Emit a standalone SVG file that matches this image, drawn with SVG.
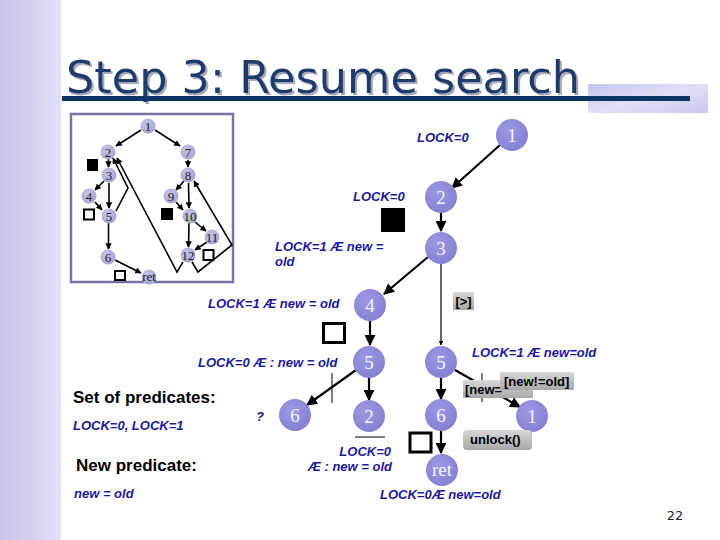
<svg xmlns="http://www.w3.org/2000/svg" width="720" height="540" viewBox="0 0 720 540">
<defs>
<linearGradient id="strip" x1="0" y1="0" x2="1" y2="0">
<stop offset="0" stop-color="#c6c6ea"/><stop offset="0.6" stop-color="#d4d4f0"/><stop offset="1" stop-color="#e2e2f6"/>
</linearGradient>
<linearGradient id="patch" x1="0" y1="0" x2="1" y2="1">
<stop offset="0" stop-color="#c4c4ee"/><stop offset="0.5" stop-color="#e0e0f8"/><stop offset="1" stop-color="#c8c8ee"/>
</linearGradient>
<radialGradient id="big" cx="0.4" cy="0.35" r="0.7">
<stop offset="0" stop-color="#9c98e4"/><stop offset="1" stop-color="#8480d2"/>
</radialGradient>
<radialGradient id="small" cx="0.4" cy="0.35" r="0.7">
<stop offset="0" stop-color="#c4c4e8"/><stop offset="1" stop-color="#a4a4d4"/>
</radialGradient>
<linearGradient id="tag" x1="0" y1="0" x2="0" y2="1">
<stop offset="0" stop-color="#d8d8d8"/><stop offset="1" stop-color="#a8a8a8"/>
</linearGradient>
<filter id="shadow" x="-5%" y="-20%" width="110%" height="140%">
<feDropShadow dx="2" dy="2" stdDeviation="0.5" flood-color="#a8a8b8"/>
</filter>
<marker id="ah" viewBox="0 0 10 10" refX="9" refY="5" markerWidth="5" markerHeight="5" orient="auto" markerUnits="strokeWidth">
<path d="M0,0 L10,5 L0,10 z" fill="#000"/>
</marker>
<marker id="ahs" viewBox="0 0 10 10" refX="9" refY="5" markerWidth="4" markerHeight="4" orient="auto" markerUnits="strokeWidth">
<path d="M0,0 L10,5 L0,10 z" fill="#000"/>
</marker>
<style>
.bn{fill:url(#big)}
.bt{font-family:"Liberation Serif",serif;font-size:19px;fill:#f2f2ff;text-anchor:middle}
.sn{fill:url(#small)}
.st{font-family:"Liberation Serif",serif;font-size:13px;fill:#222;text-anchor:middle}
.lbl{font-family:"Liberation Sans",Arial,sans-serif;font-size:13px;font-style:italic;font-weight:bold;fill:#1a1a9c}
.hd{font-family:"Liberation Sans",Arial,sans-serif;font-size:17px;font-weight:bold;fill:#000}
.e{stroke:#000;stroke-width:2.2;fill:none;marker-end:url(#ah)}
.ethin{stroke:#000;stroke-width:1.2;fill:none;marker-end:url(#ahs)}
.se{stroke:#000;stroke-width:1.6;fill:none;marker-end:url(#ahs)}
.tk{font-family:"Liberation Sans",Arial,sans-serif;font-size:13px;font-weight:bold;fill:#000}
</style>
</defs>
<rect width="720" height="540" fill="#fff"/>
<rect x="0" y="0" width="61" height="540" fill="url(#strip)"/>
<rect x="588" y="84" width="120" height="29" fill="url(#patch)"/>
<g id="title">
<text x="66" y="93" font-family="DejaVu Sans,sans-serif" font-size="44" fill="#1c3c6c" textLength="514" lengthAdjust="spacingAndGlyphs" filter="url(#shadow)">Step 3: Resume search</text>
<rect x="62" y="96" width="628" height="5" fill="#0c3466"/>
</g>
<g id="inset">
<rect x="71" y="114" width="162" height="168" fill="#fff" stroke="#7474a4" stroke-width="2.5"/>
<g id="inset-edges">
<line x1="141" y1="130" x2="116" y2="146" class="se"/>
<line x1="155" y1="130" x2="180" y2="146" class="se"/>
<line x1="108.5" y1="159" x2="108.5" y2="167" class="se"/>
<line x1="188" y1="160" x2="188" y2="167" class="se"/>
<line x1="104" y1="181" x2="95" y2="190" class="se"/>
<line x1="109" y1="183" x2="109" y2="208" class="se"/>
<line x1="95" y1="202" x2="102" y2="210" class="se"/>
<polyline points="116,211 128,188 113,158" class="se"/>
<line x1="108.5" y1="223" x2="108.5" y2="249" class="se"/>
<line x1="115" y1="260" x2="141" y2="273" class="se"/>
<line x1="184" y1="181" x2="176" y2="190" class="se"/>
<line x1="188.5" y1="183" x2="189" y2="208" class="se"/>
<line x1="176" y1="202" x2="183" y2="210" class="se"/>
<line x1="195" y1="222" x2="206" y2="231" class="se"/>
<line x1="189" y1="223" x2="188.5" y2="247" class="se"/>
<line x1="207" y1="242" x2="195" y2="250" class="se"/>
<polyline points="183,262 177,272 117,158" class="se"/>
<polyline points="192,262 198,272 232,245 194,181" class="se"/>
</g>
<g id="n-s1"><circle cx="148" cy="126" r="7.5" class="sn"/><text x="148" y="130.5" class="st">1</text></g>
<g id="n-s2"><circle cx="108" cy="152" r="7.5" class="sn"/><text x="108" y="156.5" class="st">2</text></g>
<g id="n-s7"><circle cx="188" cy="152" r="7.5" class="sn"/><text x="188" y="156.5" class="st">7</text></g>
<g id="n-s3"><circle cx="109" cy="175" r="7.5" class="sn"/><text x="109" y="179.5" class="st">3</text></g>
<g id="n-s8"><circle cx="188" cy="175" r="7.5" class="sn"/><text x="188" y="179.5" class="st">8</text></g>
<g id="n-s4"><circle cx="89" cy="196" r="7.5" class="sn"/><text x="89" y="200.5" class="st">4</text></g>
<g id="n-s9"><circle cx="171" cy="196" r="7.5" class="sn"/><text x="171" y="200.5" class="st">9</text></g>
<g id="n-s5"><circle cx="109" cy="216" r="7.5" class="sn"/><text x="109" y="220.5" class="st">5</text></g>
<g id="n-s10"><circle cx="190" cy="216" r="7.5" class="sn"/><text x="190" y="220.5" class="st">10</text></g>
<g id="n-s11"><circle cx="212" cy="237" r="7.5" class="sn"/><text x="212" y="241.5" class="st">11</text></g>
<g id="n-s6"><circle cx="108" cy="257" r="7.5" class="sn"/><text x="108" y="261.5" class="st">6</text></g>
<g id="n-s12"><circle cx="188" cy="255" r="7.5" class="sn"/><text x="188" y="259.5" class="st">12</text></g>
<g id="n-sret"><circle cx="149" cy="277" r="7.5" class="sn"/><text x="149" y="281" class="st" font-size="11">ret</text></g>
<rect x="87" y="159" width="11" height="12" fill="#000"/>
<rect x="84" y="209.5" width="10" height="10" fill="none" stroke="#000" stroke-width="2"/>
<rect x="161" y="208" width="12" height="12" fill="#000"/>
<rect x="203.5" y="250" width="10" height="10" fill="none" stroke="#000" stroke-width="2"/>
<rect x="115" y="271" width="10" height="9" fill="none" stroke="#000" stroke-width="2"/>
</g>
<g id="connectors">
<line x1="500" y1="145" x2="452" y2="188" class="e"/>
<line x1="441" y1="213" x2="441" y2="231" class="e"/>
<line x1="428" y1="257" x2="384" y2="294" class="e"/>
<line x1="441" y1="264" x2="441" y2="345" class="ethin"/>
<line x1="370" y1="321" x2="370" y2="345" class="e"/>
<line x1="356" y1="370" x2="307" y2="405" class="e"/>
<line x1="369" y1="378" x2="369" y2="400" class="e"/>
<line x1="441" y1="378" x2="441" y2="399" class="e"/>
<line x1="455" y1="370" x2="520" y2="407" class="e"/>
<line x1="441" y1="431" x2="441" y2="453" class="e"/>
<line x1="332" y1="373" x2="332" y2="403" stroke="#000" stroke-width="1"/>
<line x1="482" y1="373" x2="482" y2="402" stroke="#000" stroke-width="1"/>
<line x1="355" y1="437" x2="385" y2="437" stroke="#000" stroke-width="1"/>
</g>
<g id="n1"><circle cx="512" cy="135" r="16" class="bn"/><text x="512" y="142" class="bt">1</text></g>
<g id="n2"><circle cx="441" cy="197" r="16" class="bn"/><text x="441" y="204" class="bt">2</text></g>
<g id="n3"><circle cx="441" cy="248" r="16" class="bn"/><text x="441" y="255" class="bt">3</text></g>
<g id="n4"><circle cx="370" cy="305" r="16" class="bn"/><text x="370" y="312" class="bt">4</text></g>
<g id="n5a"><circle cx="369" cy="362" r="16" class="bn"/><text x="369" y="369" class="bt">5</text></g>
<g id="n5b"><circle cx="441" cy="362" r="16" class="bn"/><text x="441" y="369" class="bt">5</text></g>
<g id="n6a"><circle cx="295" cy="415" r="16" class="bn"/><text x="295" y="422" class="bt">6</text></g>
<g id="n2b"><circle cx="369" cy="416" r="16" class="bn"/><text x="369" y="423" class="bt">2</text></g>
<g id="n6b"><circle cx="441" cy="415" r="16" class="bn"/><text x="441" y="422" class="bt">6</text></g>
<g id="n1b"><circle cx="532" cy="416" r="16" class="bn"/><text x="532" y="423" class="bt">1</text></g>
<g id="nret"><circle cx="442" cy="470" r="16" class="bn"/><text x="442" y="476" class="bt" font-size="16">ret</text></g>
<rect x="381" y="208" width="24" height="24" fill="#000"/>
<rect x="323.5" y="323.5" width="21" height="19" fill="none" stroke="#000" stroke-width="3"/>
<rect x="410" y="433" width="21" height="19" fill="none" stroke="#000" stroke-width="3"/>
<g id="labels">
<text x="417" y="142" class="lbl">LOCK=0</text>
<text x="353" y="201" class="lbl">LOCK=0</text>
<text x="275" y="251" class="lbl">LOCK=1 Æ new =</text>
<text x="275" y="266" class="lbl">old</text>
<text x="208" y="308" class="lbl">LOCK=1 Æ new = old</text>
<text x="198" y="367" class="lbl">LOCK=0 Æ : new = old</text>
<text x="472" y="357" class="lbl">LOCK=1 Æ new=old</text>
<text x="391" y="456" class="lbl" text-anchor="end">LOCK=0</text>
<text x="392" y="471" class="lbl" text-anchor="end">Æ : new = old</text>
<text x="380" y="499" class="lbl">LOCK=0Æ new=old</text>
<text x="256" y="421" class="lbl">?</text>
<text x="73" y="403" class="hd">Set of predicates:</text>
<text x="73" y="430" class="lbl">LOCK=0, LOCK=1</text>
<text x="76" y="471" class="hd">New predicate:</text>
<text x="74" y="498" class="lbl">new = old</text>
</g>
<g id="tags">
<rect x="453" y="292" width="21" height="18" fill="url(#tag)"/>
<text x="463.5" y="306" class="tk" text-anchor="middle">[&gt;]</text>
<rect x="463" y="380" width="70" height="18" fill="url(#tag)"/>
<text x="465" y="394" class="tk">[new=</text>
<rect x="500" y="372" width="74" height="18" fill="url(#tag)"/>
<text x="504" y="386" class="tk">[new!=old]</text>
<rect x="463" y="430" width="69" height="20" rx="4" fill="url(#tag)"/>
<text x="470" y="444" class="tk">unlock()</text>
</g>
<text x="675" y="520" font-family="DejaVu Sans,sans-serif" font-size="13" fill="#223" text-anchor="middle">22</text>
</svg>
